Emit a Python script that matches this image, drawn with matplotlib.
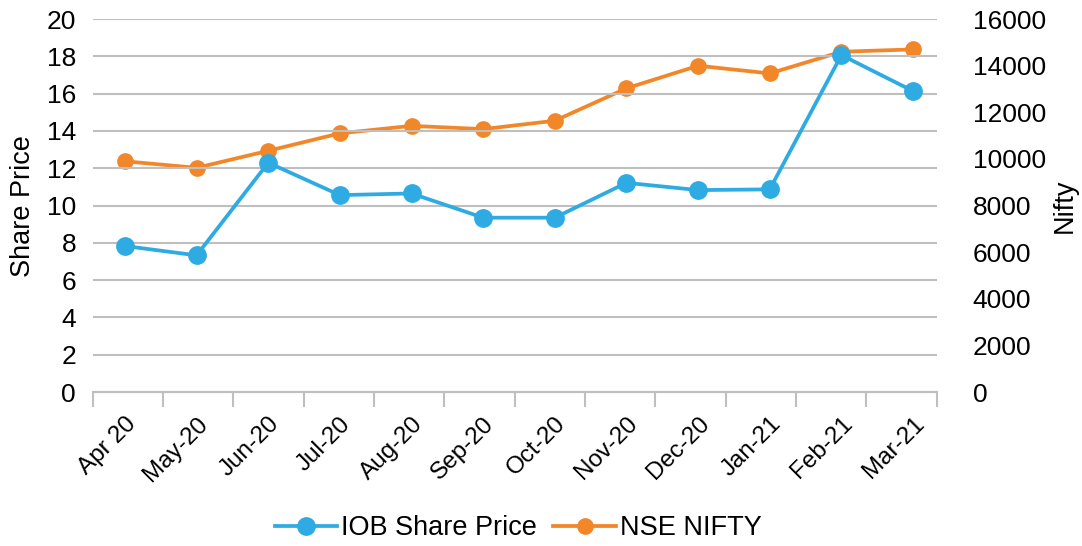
import numpy as np
import matplotlib.pyplot as plt

plt.rcParams['font.family'] = ['Liberation Sans', 'DejaVu Sans']

months = ["Apr 20", "May-20", "Jun-20", "Jul-20", "Aug-20", "Sep-20",
          "Oct-20", "Nov-20", "Dec-20", "Jan-21", "Feb-21", "Mar-21"]
iob_price = [7.83, 7.33, 12.30, 10.56, 10.65, 9.35, 9.35, 11.22, 10.83, 10.87, 18.07, 16.14]
nifty = [9900, 9620, 10350, 11100, 11420, 11280, 11640, 13030, 14000, 13670, 14600, 14700]

blue = "#2EABE2"
orange = "#F2872A"
grid_col = "#BFBFBF"

fig = plt.figure(figsize=(10.82, 5.46), dpi=100)
ax = fig.add_axes([0.0857, 0.282, 0.78, 0.683])
ax2 = ax.twinx()

x = np.arange(len(months))
l1, = ax.plot(x, iob_price, color=blue, lw=2.7, marker="o", ms=12.5, label="IOB Share Price", zorder=3)
l2, = ax2.plot(x, nifty, color=orange, lw=2.7, marker="o", ms=11, label="NSE NIFTY", zorder=3)
ax.set_zorder(ax2.get_zorder() + 1)
ax.patch.set_visible(False)

x_lo, x_hi = -0.45, 11.33
ax.set_xlim(x_lo, x_hi)
ax.set_ylim(0, 20)
ax2.set_ylim(0, 16000)
ax.set_yticks(np.arange(0, 21, 2))
ax2.set_yticks(np.arange(0, 16001, 2000))

ax.yaxis.grid(True, color=grid_col, lw=1.5)
ax.set_axisbelow(True)

ax.set_xticks(x)
ax.set_xticklabels(months, rotation=45, ha="right", rotation_mode="anchor", fontsize=17.5)
ax.tick_params(axis="x", length=0, pad=15)
ax.set_xticks(np.linspace(x_lo, x_hi, len(months) + 1), minor=True)
ax.tick_params(axis="x", which="minor", length=11, width=1.5, color=grid_col)

ax.tick_params(axis="y", length=0, labelsize=19, pad=12)
ax2.tick_params(axis="y", length=0, labelsize=19, pad=26)

for a in (ax, ax2):
    for s in ("top", "left", "right"):
        a.spines[s].set_visible(False)
    a.spines["bottom"].set_color(grid_col)
    a.spines["bottom"].set_linewidth(1.5)

ax.set_ylabel("Share Price", fontsize=19.5, labelpad=8)
ax2.set_ylabel("Nifty", fontsize=19.5, labelpad=4)

fig.legend(handles=[l1, l2], loc="center", bbox_to_anchor=(0.479, 0.033), ncol=2,
           frameon=False, fontsize=19.5, handlelength=2.3, columnspacing=0.6, handletextpad=0.15)

fig.savefig("out.png", dpi=100)
